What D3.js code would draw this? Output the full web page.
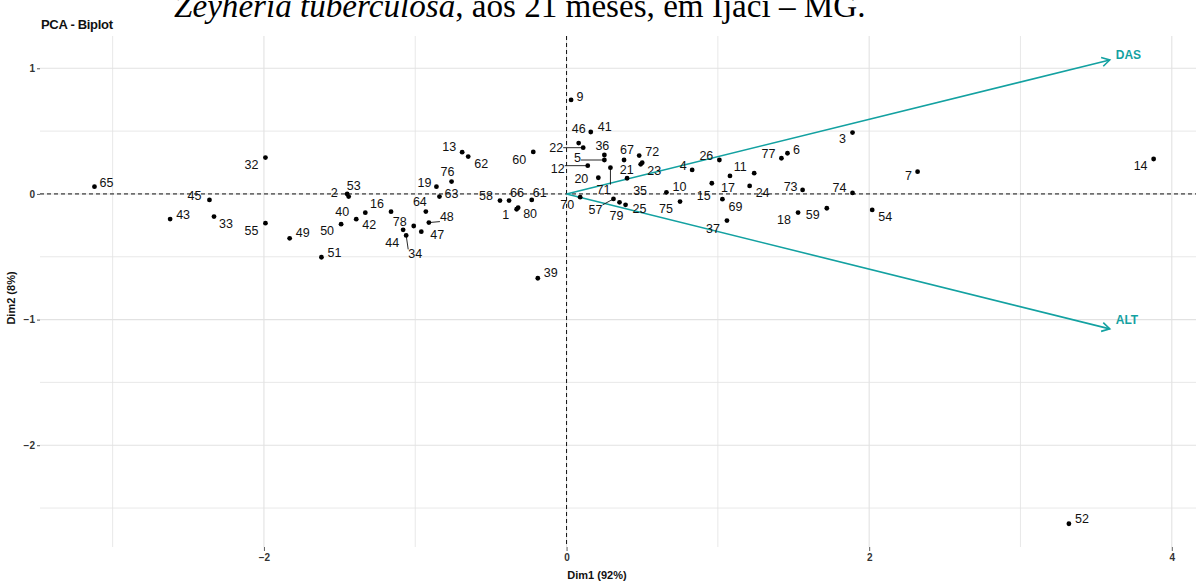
<!DOCTYPE html>
<html>
<head>
<meta charset="utf-8">
<script src="https://cdn.jsdelivr.net/npm/d3@7"></script>
<style>
  html, body { margin: 0; padding: 0; background: #fff; }
  svg { display: block; }
</style>
</head>
<body>
<svg id="chart" width="1196" height="581"></svg>
<script>
// Individuals (trees) on the first two principal components
const ids  = [65, 45, 43, 33, 32, 55, 49, 51, 50, 40, 42, 2, 53, 16, 44, 78, 34, 47, 48, 64,
              19, 63, 76, 13, 62, 60, 58, 66, 61, 1, 80, 39, 9, 46, 41, 22, 36, 5, 12, 20,
              71, 67, 72, 23, 21, 35, 70, 57, 79, 25, 10, 75, 4, 26, 11, 17, 15, 69, 24, 37,
              77, 6, 3, 73, 74, 7, 18, 59, 54, 14, 52];
const dim1 = [-3.12, -2.36, -2.62, -2.33, -1.99, -1.99, -1.83, -1.62, -1.49, -1.39, -1.33, -1.45, -1.44, -1.16, -1.08, -1.01, -1.06, -0.96, -0.91, -0.93,
              -0.86, -0.84, -0.76, -0.69, -0.65, -0.22, -0.44, -0.38, -0.23, -0.33, -0.32, -0.19, 0.03, 0.08, 0.16, 0.11, 0.25, 0.25, 0.14, 0.21,
              0.29, 0.38, 0.48, 0.50, 0.49, 0.40, 0.09, 0.31, 0.35, 0.39, 0.66, 0.75, 0.83, 1.01, 1.24, 1.08, 0.96, 1.03, 1.21, 1.06,
              1.42, 1.46, 1.89, 1.56, 1.89, 2.32, 1.53, 1.72, 2.02, 3.88, 3.32];
const dim2 = [0.058, -0.048, -0.20, -0.18, 0.289, -0.233, -0.353, -0.504, -0.241, -0.201, -0.149, 0.0, -0.021, -0.141, -0.286, -0.255, -0.33, -0.30, -0.228, -0.14,
              0.058, -0.021, 0.098, 0.332, 0.297, 0.334, -0.053, -0.053, -0.048, -0.122, -0.109, -0.671, 0.748, 0.405, 0.493, 0.368, 0.310, 0.270, 0.225, 0.129,
              0.209, 0.270, 0.305, 0.249, 0.236, 0.125, -0.026, -0.040, -0.067, -0.087, 0.013, -0.061, 0.191, 0.270, 0.165, 0.143, 0.085, -0.042, 0.064, -0.212,
              0.284, 0.324, 0.488, 0.032, 0.008, 0.177, -0.148, -0.114, -0.127, 0.278, -2.625];

// Variable loadings (arrows)
const varNames = ["DAS", "ALT"];
const varDim1  = [3.59, 3.59];
const varDim2  = [1.066, -1.074];

// Axis ticks
const xTicks = [-2, 0, 2, 4];
const yTicks = [-2, -1, 0, 1];
const xMinor = [-3, -1, 1, 3];
const yMinor = [-2.5, -1.5, -0.5, 0.5];

// Label placement (pixel offset of each label from its point); true = leader segment
const labelOffset = {
  65: [12, -4], 45: [-15, -4], 43: [13, -4], 33: [12, 7], 32: [-14, 7], 55: [-14, 8],
  49: [13, -5], 51: [13, -4], 50: [-14, 7], 40: [-14, -7], 42: [4, 12], 2: [-13, -1],
  53: [5, -11], 16: [-14, -8], 44: [-11, 13], 78: [-14, -4], 34: [9, 19, true], 47: [16, 3],
  48: [18, -6, true], 64: [-6, -10], 19: [-12, -4], 63: [12, -3], 76: [-4, -10], 13: [-13, -5],
  62: [13, 7], 60: [-14, 8], 58: [-14, -5], 66: [8, -8], 61: [8, -7], 1: [-11, 6],
  80: [12, 6], 39: [13, -5], 9: [9, -3], 46: [0, -14], 41: [14, -5], 22: [-27, 0, true],
  36: [-2, -9], 5: [-27, -2, true], 12: [-30, 3, true], 20: [-17, 1], 71: [-7, 22, true],
  67: [3, -10], 72: [13, -4], 23: [12, 8], 21: [-14, 6], 35: [13, 13], 70: [-13, 8],
  57: [-18, 11, true], 79: [-3, 14], 25: [14, 4], 10: [13, -5], 75: [-14, 7], 4: [-9, -4],
  26: [-13, -4], 11: [-14, -6], 17: [-2, 12], 15: [-8, 13], 69: [13, 8], 24: [13, 7],
  37: [-14, 8], 77: [-13, -4], 6: [9, -3], 3: [-10, 6], 73: [-12, -3], 74: [-13, -5],
  7: [-9, 4], 18: [-14, 7], 59: [-14, 7], 54: [13, 7], 14: [-13, 7], 52: [13, -5]
};

const svg = d3.select("#chart");
const plotL = 40, plotR = 1196, plotT = 36, plotB = 547;
const teal = "#13A1A1";

const x = d3.scaleLinear().domain([-3.48, 4.16]).range([plotL, plotR]);
const y = d3.scaleLinear().domain([-2.81, 1.257]).range([plotB, plotT]);

// Heading line above the plot (partly outside the canvas)
const head = svg.append("text")
  .attr("x", 174).attr("y", 17)
  .attr("font-family", "'Liberation Serif', 'Times New Roman', serif")
  .attr("font-size", 27).attr("fill", "#000");
head.append("tspan").attr("font-style", "italic").text("Zeyheria tuberculosa");
head.append("tspan").text(", aos 21 meses, em Ijaci \u2013 MG.");
const hw = head.node().getComputedTextLength();
head.attr("font-size", 27 * 692 / hw);

// Title
svg.append("text")
  .attr("x", 41).attr("y", 29)
  .attr("font-family", "'Liberation Sans', Arial, sans-serif")
  .attr("font-size", 13).attr("font-weight", "bold").attr("fill", "#111")
  .attr("letter-spacing", "-0.3")
  .text("PCA - Biplot");

// Grid
const grid = svg.append("g").attr("stroke", "#e2e2e2").attr("fill", "none");
grid.selectAll("line.vx").data(xTicks.concat(xMinor)).join("line")
  .attr("x1", d => x(d)).attr("x2", d => x(d))
  .attr("y1", plotT).attr("y2", plotB).attr("stroke-width", d => xTicks.includes(d) ? 1.1 : 0.8);
grid.selectAll("line.hy").data(yTicks.concat(yMinor)).join("line")
  .attr("y1", d => y(d)).attr("y2", d => y(d))
  .attr("x1", plotL).attr("x2", plotR).attr("stroke-width", d => yTicks.includes(d) ? 1.1 : 0.8);

// Axes (labels and small ticks only)
const axisFont = "'Liberation Sans', Arial, sans-serif";
const xAxis = svg.append("g").attr("transform", `translate(0,${plotB})`)
  .call(d3.axisBottom(x).tickValues(xTicks).tickSize(4).tickPadding(3).tickFormat(d3.format("d")));
const yAxis = svg.append("g").attr("transform", `translate(${plotL},0)`)
  .call(d3.axisLeft(y).tickValues(yTicks).tickSize(3).tickPadding(2).tickFormat(d3.format("d")));
[xAxis, yAxis].forEach(a => {
  a.select(".domain").remove();
  a.selectAll(".tick line").attr("stroke", "#333").attr("stroke-width", 0.8);
  a.selectAll(".tick text").attr("font-family", axisFont).attr("font-size", 10)
    .attr("fill", "#333").attr("font-weight", "bold");
});

// Axis titles
svg.append("text")
  .attr("x", 597).attr("y", 579)
  .attr("text-anchor", "middle")
  .attr("font-family", axisFont).attr("font-size", 11).attr("font-weight", "bold").attr("fill", "#111")
  .text("Dim1 (92%)");
svg.append("text")
  .attr("transform", "translate(15,298) rotate(-90)")
  .attr("text-anchor", "middle")
  .attr("font-family", axisFont).attr("font-size", 11).attr("font-weight", "bold").attr("fill", "#111")
  .text("Dim2 (8%)");

// Reference lines through the origin
svg.append("line")
  .attr("x1", plotL).attr("x2", plotR).attr("y1", y(0)).attr("y2", y(0))
  .attr("stroke", "#111").attr("stroke-width", 1).attr("stroke-dasharray", "4,3");
svg.append("line")
  .attr("x1", x(0)).attr("x2", x(0)).attr("y1", plotT).attr("y2", plotB)
  .attr("stroke", "#111").attr("stroke-width", 1).attr("stroke-dasharray", "4,3");

// Variable arrows
const arrows = svg.append("g");
varNames.forEach((name, i) => {
  const x0 = x(0), y0 = y(0), x1 = x(varDim1[i]), y1 = y(varDim2[i]);
  arrows.append("line")
    .attr("x1", x0).attr("y1", y0).attr("x2", x1).attr("y2", y1)
    .attr("stroke", teal).attr("stroke-width", 1.6);
  const ang = Math.atan2(y1 - y0, x1 - x0), len = 9, spread = Math.PI / 6;
  const p = a => [x1 - len * Math.cos(ang + a), y1 - len * Math.sin(ang + a)];
  const a1 = p(spread), a2 = p(-spread);
  arrows.append("path")
    .attr("d", `M${a1[0]},${a1[1]}L${x1},${y1}L${a2[0]},${a2[1]}`)
    .attr("fill", "none").attr("stroke", teal).attr("stroke-width", 1.6);
  arrows.append("text")
    .attr("x", x1 + 6).attr("y", y1 + (varDim2[i] > 0 ? -1 : -5))
    .attr("font-family", axisFont).attr("font-size", 12).attr("font-weight", "bold")
    .attr("fill", teal)
    .text(name);
});

// Individuals
const pts = ids.map((id, i) => ({ id, px: x(dim1[i]), py: y(dim2[i]) }));
const segG = svg.append("g");
svg.append("g").selectAll("circle").data(pts).join("circle")
  .attr("cx", d => d.px).attr("cy", d => d.py).attr("r", 2.4).attr("fill", "#000");

const labG = svg.append("g")
  .attr("font-family", axisFont).attr("font-size", 12.5).attr("fill", "#111");
pts.forEach(d => {
  const off = labelOffset[d.id];
  const t = labG.append("text")
    .attr("x", d.px + off[0]).attr("y", d.py + off[1])
    .attr("text-anchor", "middle").attr("dominant-baseline", "central")
    .text(d.id);
  if (off[2]) {
    const b = t.node().getBBox();
    const ex = Math.max(b.x, Math.min(d.px, b.x + b.width));
    const ey = Math.max(b.y + 2, Math.min(d.py, b.y + b.height - 2));
    segG.append("line")
      .attr("x1", d.px).attr("y1", d.py).attr("x2", ex).attr("y2", ey)
      .attr("stroke", "#111").attr("stroke-width", 0.9);
  }
});
</script>
</body>
</html>
